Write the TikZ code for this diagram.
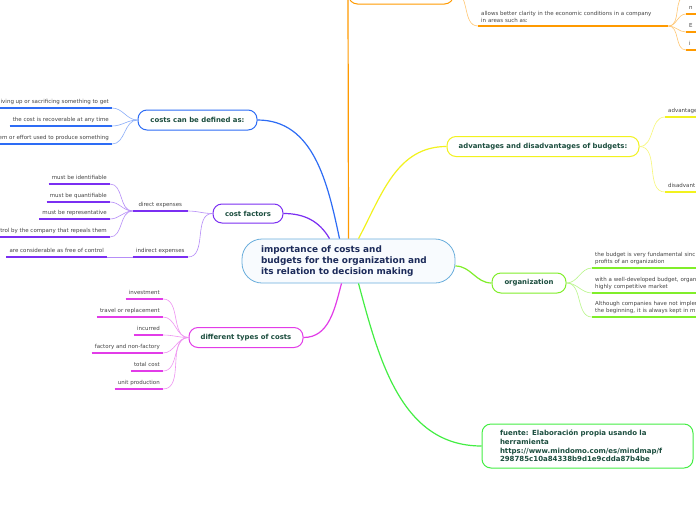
\documentclass[tikz,border=0pt]{standalone}
\usepackage{fontspec}
\setmainfont{DejaVu Sans}
\usetikzlibrary{positioning}
\definecolor{mmblue}{HTML}{2D6CF5}
\definecolor{mmpurple}{HTML}{7B2FF2}
\definecolor{mmmagenta}{HTML}{E23CE8}
\definecolor{mmorange}{HTML}{FF9A00}
\definecolor{mmyellow}{HTML}{F2F21E}
\definecolor{mmlime}{HTML}{80EE2A}
\definecolor{mmgreen}{HTML}{44EE44}
\definecolor{mmcore}{HTML}{6AAEDC}
\definecolor{mmcorefill}{HTML}{F8FBFE}
\definecolor{mmnavy}{HTML}{1C2B5A}
\definecolor{mmtext}{HTML}{1B4D3E}
\definecolor{mmleaf}{HTML}{444444}
\tikzset{
  topic/.style ={draw=#1, line width=1pt, rounded corners=9pt, fill=white,
                 font=\fontsize{6.9}{8}\selectfont\bfseries, text=mmtext, inner sep=0pt},
  leaf/.style  ={font=\fontsize{5.5}{7}\selectfont, text=mmleaf, inner xsep=3pt,
                 inner ysep=3.5pt, text depth=1pt,
                 append after command={(\tikzlastnode.south west) edge[uline,#1] (\tikzlastnode.south east)}},
  mleaf/.style ={leaf=#1, text depth=, inner ysep=3pt, align=left},
  uline/.style ={line width=1.8pt},
  twig/.style  ={line width=0.6pt},
  branch/.style={line width=1.2pt},
}

\begin{document}
\begin{tikzpicture}[x=1pt,y=1pt]
  \useasboundingbox (0,0) rectangle (696,-520);
  \fill[white] (0,0) rectangle (696,-520);
  \clip (0,0) rectangle (696,-520);
  % central topic
  \node[draw=mmcore,fill=mmcorefill,line width=0.8pt,rounded corners=20pt,
        minimum width=213pt,minimum height=44pt,text width=175pt,align=left,
        font=\fontsize{8.9}{11}\selectfont\bfseries,text=mmnavy] (imp) at (348.5,-261)
        {importance of costs and\\budgets for the organization and\\its relation to decision making};
  % main topics
  \node[topic=mmblue,minimum width=119pt,minimum height=20pt] (costs) at (197.5,-120) {costs can be defined as:};
  \node[topic=mmpurple,minimum width=70pt,minimum height=19pt] (factors) at (248,-213.5) {cost factors};
  \node[topic=mmmagenta,minimum width=114pt,minimum height=20pt] (types) at (246,-337.5) {different types of costs};
  \node[topic=mmorange,minimum width=105pt,minimum height=24pt] (budg) at (401,8) {};
  \node[topic=mmyellow,minimum width=192pt,minimum height=20pt] (advdis) at (543,-146.5) {advantages and disadvantages of budgets:};
  \node[topic=mmlime,minimum width=74pt,minimum height=20pt] (org) at (529,-283) {organization};
  \node[topic=mmgreen,minimum width=211pt,minimum height=44pt,text width=175pt,align=left,
        font=\fontsize{7}{8.7}\selectfont\bfseries] (src) at (587.5,-446)
        {fuente: Elaboración propia usando la\\herramienta\\https://www.mindomo.com/es/mindmap/f\\298785c10a84338b9d1e9cdda87b4be};
  \draw[branch,mmblue] ([xshift=-9pt]imp.north) to[out=102,in=0] (costs.east);
  \draw[branch,mmpurple] ([xshift=-19pt]imp.north) to[out=120,in=0] (factors.east);
  \draw[branch,mmorange] (imp.north) -- (budg.west);
  \draw[branch,mmyellow] ([xshift=10pt]imp.north) to[out=62,in=180] (advdis.west);
  \draw[branch,mmlime] ([yshift=-5pt]imp.east) to[out=0,in=180] (org.west);
  \draw[branch,mmmagenta] ([xshift=-7pt]imp.south) to[out=-105,in=0] (types.east);
  \draw[branch,mmgreen] ([xshift=10pt]imp.south) to[out=-75,in=180] (src.west);
  % costs can be defined as
  \node[leaf=mmblue,anchor=south east] (c1) at (112,-108) {iving up or sacrificing something to get};
  \node[leaf=mmblue,anchor=south east] (c2) at (112,-126) {the cost is recoverable at any time};
  \node[leaf=mmblue,anchor=south east] (c3) at (112,-144) {em or effort used to produce something};
  \foreach \n in {c1,c2,c3}
    \draw[twig,mmblue!55] (costs.west) to[out=180,in=0] (\n.south east);
  % cost factors
  \node[leaf=mmpurple,anchor=south east,minimum width=55pt] (direct) at (188,-211) {direct expenses};
  \node[leaf=mmpurple,anchor=south east,minimum width=55pt] (indirect) at (188,-257) {indirect expenses};
  \node[leaf=mmpurple,anchor=south east] (d1) at (110,-184) {must be identifiable};
  \node[leaf=mmpurple,anchor=south east] (d2) at (110,-202) {must be quantifiable};
  \node[leaf=mmpurple,anchor=south east] (d3) at (110,-219) {must be representative};
  \node[leaf=mmpurple,anchor=south east] (d4) at (110,-237) {ntrol by the company that repeals them};
  \node[leaf=mmpurple,anchor=south east] (i1) at (107,-257) {are considerable as free of control};
  \foreach \n in {direct,indirect}
    \draw[twig,mmpurple!55] (factors.west) to[out=180,in=0] (\n.south east);
  \foreach \n in {d1,d2,d3,d4}
    \draw[twig,mmpurple!55] (direct.south west) to[out=180,in=0] (\n.south east);
  \draw[twig,mmpurple!55] (indirect.south west) -- (i1.south east);
  % different types of costs
  \node[leaf=mmmagenta,anchor=south east] (t1) at (163,-299) {investment};
  \node[leaf=mmmagenta,anchor=south east] (t2) at (163,-317) {travel or replacement};
  \node[leaf=mmmagenta,anchor=south east] (t3) at (163,-335) {incurred};
  \node[leaf=mmmagenta,anchor=south east] (t4) at (163,-353) {factory and non-factory};
  \node[leaf=mmmagenta,anchor=south east] (t5) at (163,-371) {total cost};
  \node[leaf=mmmagenta,anchor=south east] (t6) at (163,-389) {unit production};
  \foreach \n in {t1,t2,t3,t4,t5,t6}
    \draw[twig,mmmagenta!55] (types.west) to[out=180,in=0] (\n.south east);
  % budgets
  \node[mleaf=mmorange,anchor=south west,text width=184pt] (clar) at (478,-26)
       {allows better clarity in the economic conditions in a company\\in areas such as:};
  \node[leaf=mmorange,anchor=south west,text width=40pt] (a0) at (686,4) {};
  \node[leaf=mmorange,anchor=south west,text width=40pt] (a1) at (686,-14) {n};
  \node[leaf=mmorange,anchor=south west,text width=40pt] (a2) at (686,-32) {E};
  \node[leaf=mmorange,anchor=south west,text width=40pt] (a3) at (686,-50) {i};
  \draw[twig,mmorange!55] (budg.east) to[out=0,in=180] (clar.south west);
  \foreach \n in {a0,a1,a2,a3}
    \draw[twig,mmorange!55] (clar.south east) to[out=0,in=180] (\n.south west);
  % advantages and disadvantages
  \node[leaf=mmyellow,anchor=south west,text width=40pt] (adv) at (665,-117) {advantage};
  \node[leaf=mmyellow,anchor=south west,text width=40pt] (dis) at (665,-192) {disadvant};
  \foreach \n in {adv,dis}
    \draw[twig,mmyellow!60] (advdis.east) to[out=0,in=180] (\n.south west);
  % organization
  \node[mleaf=mmlime,anchor=south west,text width=120pt] (o1) at (592,-268)
       {the budget is very fundamental sinc\\profits of an organization};
  \node[mleaf=mmlime,anchor=south west,text width=120pt] (o2) at (592,-293)
       {with a well-developed budget, organ\\highly competitive market};
  \node[mleaf=mmlime,anchor=south west,text width=120pt] (o3) at (592,-317)
       {Although companies have not implem\\the beginning, it is always kept in m};
  \foreach \n in {o1,o2,o3}
    \draw[twig,mmlime!55] (org.east) to[out=0,in=180] (\n.south west);
\end{tikzpicture}
\end{document}
